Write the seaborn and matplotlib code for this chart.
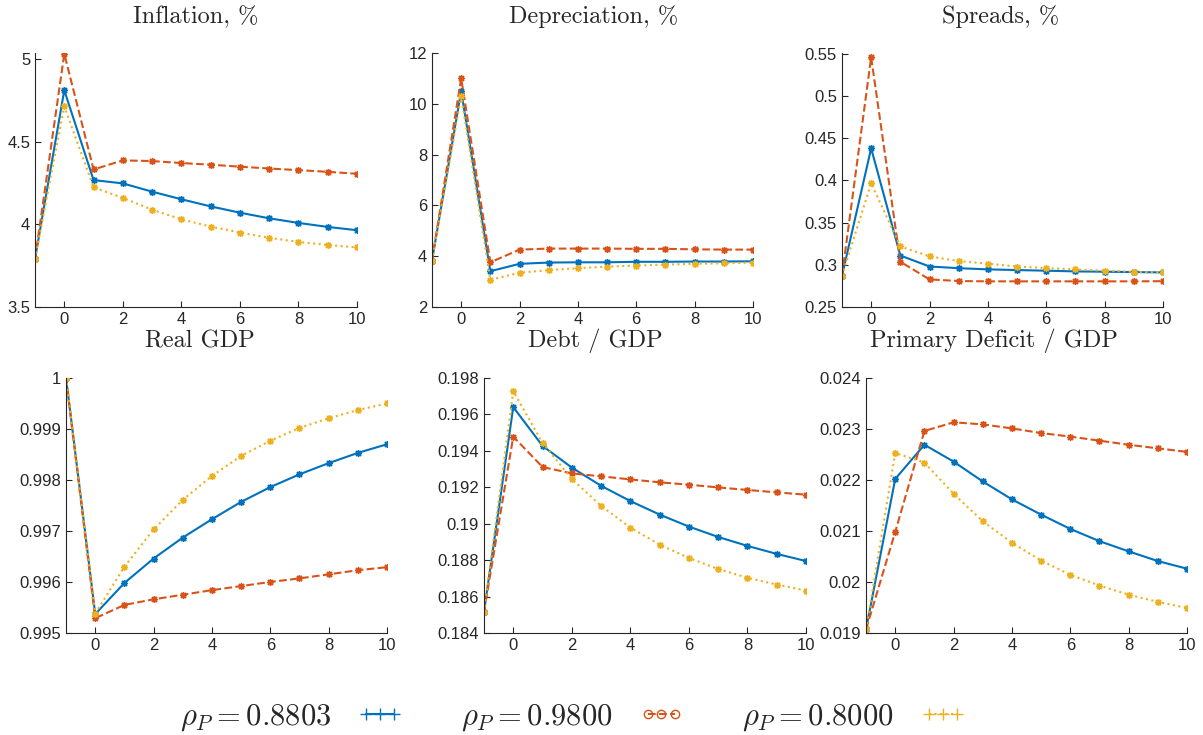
import numpy as np
import pandas as pd
import matplotlib
matplotlib.use("Agg")
import matplotlib.pyplot as plt
import seaborn as sns
from matplotlib.lines import Line2D
from matplotlib.ticker import FuncFormatter

# horizon (quarters after the shock)
horizon = list(range(-1, 11))

labels = [r"$\rho_P = 0.8803$", r"$\rho_P = 0.9800$", r"$\rho_P = 0.8000$"]

inflation_base = [3.79, 4.81, 4.267, 4.247, 4.197, 4.151, 4.108, 4.070, 4.036, 4.008, 3.984, 3.964]
inflation_high = [3.79, 5.03, 4.331, 4.386, 4.382, 4.370, 4.360, 4.348, 4.337, 4.327, 4.317, 4.305]
inflation_low = [3.79, 4.713, 4.223, 4.159, 4.088, 4.030, 3.986, 3.950, 3.918, 3.893, 3.875, 3.860]

deprec_base = [3.83, 10.5, 3.41, 3.70, 3.75, 3.76, 3.76, 3.78, 3.78, 3.79, 3.79, 3.80]
deprec_high = [3.83, 11.0, 3.76, 4.26, 4.30, 4.30, 4.30, 4.29, 4.29, 4.27, 4.26, 4.26]
deprec_low = [3.83, 10.3, 3.07, 3.35, 3.45, 3.53, 3.59, 3.63, 3.67, 3.70, 3.72, 3.75]

spread_base = [0.287, 0.438, 0.311, 0.298, 0.296, 0.2946, 0.2938, 0.293, 0.2922, 0.2918, 0.2914, 0.291]
spread_high = [0.287, 0.546, 0.3036, 0.2827, 0.2808, 0.2804, 0.2804, 0.2804, 0.2804, 0.2804, 0.2804, 0.2806]
spread_low = [0.287, 0.3967, 0.3218, 0.310, 0.3044, 0.3013, 0.298, 0.2961, 0.2946, 0.293, 0.2918, 0.291]

gdp_base = [1.0, 0.99537, 0.99598, 0.99646, 0.99687, 0.99723, 0.99757, 0.99786, 0.99811, 0.99833, 0.99853, 0.99870]
gdp_high = [1.0, 0.99529, 0.99555, 0.99566, 0.99575, 0.99584, 0.99592, 0.99600, 0.99607, 0.99615, 0.99623, 0.99629]
gdp_low = [1.0, 0.99538, 0.99630, 0.99703, 0.99761, 0.99808, 0.99847, 0.99877, 0.99902, 0.99921, 0.99937, 0.99950]

debt_base = [0.18514, 0.1964, 0.19427, 0.19308, 0.19208, 0.19124, 0.1905, 0.18984, 0.18927, 0.18878, 0.18834, 0.18795]
debt_high = [0.18514, 0.19478, 0.19311, 0.19276, 0.1926, 0.19243, 0.19227, 0.19214, 0.19199, 0.19185, 0.19172, 0.19159]
debt_low = [0.18514, 0.19727, 0.19444, 0.19245, 0.19098, 0.18979, 0.18885, 0.18812, 0.18751, 0.18703, 0.18666, 0.18633]

deficit_base = [0.01907, 0.02202, 0.02269, 0.02236, 0.02197, 0.02162, 0.02132, 0.02104, 0.0208, 0.0206, 0.02041, 0.02026]
deficit_high = [0.01907, 0.02098, 0.02296, 0.02313, 0.02309, 0.02301, 0.02292, 0.02285, 0.02277, 0.02269, 0.02262, 0.02255]
deficit_low = [0.01907, 0.02253, 0.02234, 0.02173, 0.02119, 0.02077, 0.02042, 0.02014, 0.01993, 0.01975, 0.01961, 0.01949]

colors = ["#0072BD", "#D95319", "#EDB120"]
styles = ["-", "--", ":"]
axcol = "#262626"

sns.set_style("ticks")
plt.rcParams["mathtext.fontset"] = "cm"
plt.rcParams["font.family"] = ["Liberation Sans", "DejaVu Sans"]

fig = plt.figure(figsize=(12.03, 7.35), dpi=100)

panels = [
    ("Inflation, %", [inflation_base, inflation_high, inflation_low], (3.5, 5.035), np.linspace(3.5, 5, 4),
     [0.0291, 0.5823, 0.2677, 0.3456], (0.163, 0.977)),
    ("Depreciation, %", [deprec_base, deprec_high, deprec_low], (2, 12), np.linspace(2, 12, 6),
     [0.3591, 0.5823, 0.2668, 0.3456], (0.493, 0.977)),
    ("Spreads, %", [spread_base, spread_high, spread_low], (0.25, 0.551), np.linspace(0.25, 0.55, 7),
     [0.6999, 0.5823, 0.2668, 0.3456], (0.832, 0.977)),
    ("Real GDP", [gdp_base, gdp_high, gdp_low], (0.995, 1.0), np.linspace(0.995, 1.0, 6),
     [0.0549, 0.1388, 0.2668, 0.347], (0.166, 0.536)),
    ("Debt / GDP", [debt_base, debt_high, debt_low], (0.184, 0.198), np.linspace(0.184, 0.198, 8),
     [0.4023, 0.1388, 0.2677, 0.347], (0.495, 0.536)),
    ("Primary Deficit / GDP", [deficit_base, deficit_high, deficit_low], (0.019, 0.024), np.linspace(0.019, 0.024, 6),
     [0.7199, 0.1388, 0.2668, 0.347], (0.826, 0.536)),
]

fmt = FuncFormatter(lambda v, p: "{:g}".format(round(v, 6)))

for title, series, ylim, yticks, rect, tpos in panels:
    ax = fig.add_axes(rect)
    for vals, c, ls in zip(series, colors, styles):
        sns.lineplot(x=horizon, y=vals, ax=ax, color=c, linestyle=ls, linewidth=1.5,
                     marker=(8, 2, 0), markersize=5, markeredgewidth=1.0, markeredgecolor=c)
    ax.set_xlim(-1, 10)
    ax.set_xticks(range(0, 11, 2))
    ax.set_ylim(*ylim)
    ax.set_yticks(yticks)
    ax.yaxis.set_major_formatter(fmt)
    ax.tick_params(direction="in", length=4, width=0.8, colors=axcol, labelsize=12, labelcolor=axcol)
    sns.despine(ax=ax)
    for s in ["left", "bottom"]:
        ax.spines[s].set_color(axcol)
        ax.spines[s].set_linewidth(0.8)
    ax.set_xlabel("")
    ax.set_ylabel("")
    fig.text(tpos[0], tpos[1], title, family="cmr10", fontsize=17.5, ha="center", va="center")

handles = [
    Line2D([], [], color=colors[0], linestyle="-", marker="+", markersize=8, linewidth=1.5),
    Line2D([], [], color=colors[1], linestyle="--", marker="o", markersize=6, fillstyle="none", linewidth=1.5),
    Line2D([], [], color=colors[2], linestyle=":", marker="+", markersize=8, linewidth=1.5),
]
fig.legend(handles, labels, loc="center", bbox_to_anchor=(0.476, 0.024), ncol=3, frameon=False,
           markerfirst=False, numpoints=3, fontsize=22, handlelength=1.5, handletextpad=0.85,
           columnspacing=1.9)

fig.savefig("out.png", dpi=100)
